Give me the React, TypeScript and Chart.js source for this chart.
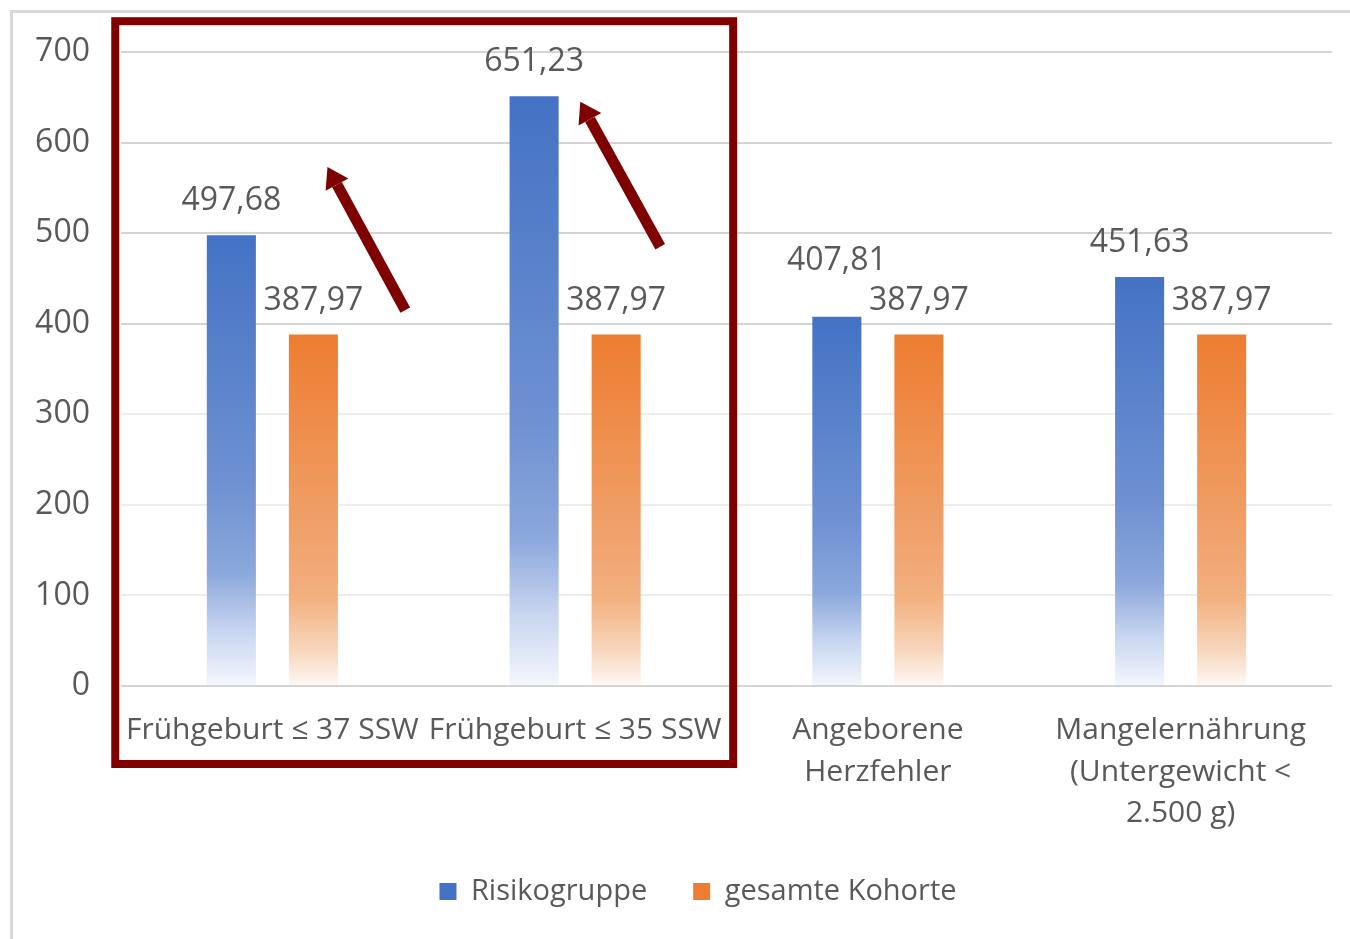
import React, { useEffect, useRef } from "react";
import { Chart, registerables } from "chart.js";

Chart.register(...registerables);

const categories: (string | string[])[] = [
  "Frühgeburt ≤ 37 SSW",
  "Frühgeburt ≤ 35 SSW",
  ["Angeborene", "Herzfehler"],
  ["Mangelernährung", "(Untergewicht <", "2.500 g)"],
];
const risikogruppe = [497.68, 651.23, 407.81, 451.63];
const gesamteKohorte = [387.97, 387.97, 387.97, 387.97];
const seriesNames = ["Risikogruppe", "gesamte Kohorte"];
const seriesColors = ["#4472C4", "#ED7D31"];
const yTicks = [0, 100, 200, 300, 400, 500, 600, 700];

// annotation anchors in data units: [category index, offset in category widths, value]
const arrows = [
  { from: [0, 0.439, 415], to: [0, 0.182, 573] },
  { from: [1, 0.281, 485], to: [1, 0.017, 645] },
];
const highlightBox = { fromCat: 0, fromOff: -0.519, toCat: 1, toOff: 0.522, topValue: 734 };

const FONT = "'Open Sans', 'Noto Sans', sans-serif";
const TEXT = "#595959";

const blueStops: [number, string][] = [
  [0, "rgba(68,114,196,1)"],
  [0.55, "rgba(110,145,210,1)"],
  [0.75, "rgba(140,168,220,1)"],
  [0.88, "rgba(200,214,240,1)"],
  [1, "rgba(244,247,253,1)"],
];
const orangeStops: [number, string][] = [
  [0, "rgba(237,125,49,1)"],
  [0.55, "rgba(240,160,105,1)"],
  [0.75, "rgba(243,176,128,1)"],
  [0.9, "rgba(248,215,190,1)"],
  [1, "rgba(254,248,244,1)"],
];

function gradientFill(solid: string, stops: [number, string][]) {
  return (c: any) => {
    const chart = c.chart;
    const area = chart.chartArea;
    if (!area || c.type !== "data") return solid;
    const ys = chart.scales.y;
    const top = ys.getPixelForValue(c.raw);
    const bottom = ys.getPixelForValue(0);
    const g = chart.ctx.createLinearGradient(0, top, 0, bottom);
    stops.forEach(([o, col]) => g.addColorStop(o, col));
    return g;
  };
}

const fmt = (v: number) => v.toFixed(2).replace(".", ",");

const overlayPlugin = {
  id: "overlay",
  afterLayout(chart: any) {
    const lg = chart.legend;
    if (lg) {
      lg.left += 32;
      lg.right += 32;
    }
  },
  afterDatasetsDraw(chart: any) {
    const ctx = chart.ctx;
    ctx.save();
    ctx.font = `32px ${FONT}`;
    ctx.fillStyle = TEXT;
    ctx.textAlign = "center";
    ctx.textBaseline = "middle";
    const m0 = chart.getDatasetMeta(0);
    const m1 = chart.getDatasetMeta(1);
    const gap = 34;
    m0.data.forEach((bar: any, i: number) => {
      const other = m1.data[i];
      const t0 = fmt(risikogruppe[i]);
      const t1 = fmt(gesamteKohorte[i]);
      let y0 = bar.y - gap;
      const y1 = other.y - gap;
      const w0 = ctx.measureText(t0).width;
      const w1 = ctx.measureText(t1).width;
      const hOverlap = Math.abs(bar.x - other.x) < (w0 + w1) / 2;
      if (hOverlap && Math.abs(y0 - y1) < 40) y0 = y1 - 40;
      ctx.fillText(t0, bar.x, y0);
      ctx.fillText(t1, other.x, y1);
    });
    ctx.restore();
  },
  afterDraw(chart: any) {
    const ctx = chart.ctx;
    const xs = chart.scales.x;
    const ys = chart.scales.y;
    const catW = (chart.chartArea.right - chart.chartArea.left) / categories.length;
    const px = (cat: number, off: number) => xs.getPixelForValue(cat) + off * catW;
    ctx.save();
    // highlight box
    const l = px(highlightBox.fromCat, highlightBox.fromOff);
    const r = px(highlightBox.toCat, highlightBox.toOff);
    const t = ys.getPixelForValue(highlightBox.topValue);
    const b = chart.chartArea.bottom + 78;
    ctx.strokeStyle = "#800000";
    ctx.lineWidth = 8;
    ctx.strokeRect(l, t, r - l, b - t);
    // arrows
    ctx.fillStyle = "#7f0000";
    ctx.strokeStyle = "#7f0000";
    arrows.forEach((a) => {
      const x1 = px(a.from[0], a.from[1]);
      const y1 = ys.getPixelForValue(a.from[2]);
      const x2 = px(a.to[0], a.to[1]);
      const y2 = ys.getPixelForValue(a.to[2]);
      const ang = Math.atan2(y2 - y1, x2 - x1);
      const headLen = 20;
      const headW = 13;
      const bx = x2 - headLen * Math.cos(ang);
      const by = y2 - headLen * Math.sin(ang);
      ctx.lineWidth = 11;
      ctx.lineCap = "butt";
      ctx.beginPath();
      ctx.moveTo(x1, y1);
      ctx.lineTo(bx, by);
      ctx.stroke();
      ctx.beginPath();
      ctx.moveTo(x2, y2);
      ctx.lineTo(bx + headW * Math.sin(ang), by - headW * Math.cos(ang));
      ctx.lineTo(bx - headW * Math.sin(ang), by + headW * Math.cos(ang));
      ctx.closePath();
      ctx.fill();
    });
    ctx.restore();
  },
};

export default function App() {
  const ref = useRef<HTMLCanvasElement | null>(null);
  useEffect(() => {
    if (!ref.current) return;
    const chart = new Chart(ref.current, {
      type: "bar",
      data: {
        labels: categories,
        datasets: [
          {
            label: seriesNames[0],
            data: risikogruppe,
            backgroundColor: gradientFill(seriesColors[0], blueStops),
            categoryPercentage: 0.542,
            barPercentage: 0.598,
          },
          {
            label: seriesNames[1],
            data: gesamteKohorte,
            backgroundColor: gradientFill(seriesColors[1], orangeStops),
            categoryPercentage: 0.542,
            barPercentage: 0.598,
          },
        ],
      },
      options: {
        animation: false,
        responsive: false,
        maintainAspectRatio: false,
        layout: { padding: { left: 0, right: 18, top: 52, bottom: 23 } },
        plugins: {
          tooltip: { enabled: false },
          legend: {
            position: "bottom",
            labels: {
              color: TEXT,
              font: { family: FONT, size: 29 },
              boxWidth: 17,
              boxHeight: 17,
              padding: 46,
              generateLabels: (chart: any) => {
                const items = Chart.defaults.plugins.legend.labels.generateLabels(chart);
                items.forEach((it: any, i: number) => {
                  it.fillStyle = seriesColors[i];
                  it.strokeStyle = seriesColors[i];
                  it.lineWidth = 0;
                });
                return items;
              },
            },
          },
        },
        scales: {
          x: {
            grid: { display: false },
            border: { display: false },
            ticks: {
              color: TEXT,
              font: { family: FONT, size: 30, lineHeight: 1.38 },
              padding: 16,
              autoSkip: false,
              maxRotation: 0,
              minRotation: 0,
            },
            afterFit: (s: any) => {
              s.height = 145;
            },
          },
          y: {
            min: 0,
            max: 700,
            afterBuildTicks: (s: any) => {
              s.ticks = yTicks.map((v) => ({ value: v }));
            },
            grid: {
              drawTicks: false,
              lineWidth: 2,
              color: (c: any) => {
                const v = c.tick ? c.tick.value : 0;
                return v === 0 || v >= 400 ? "#d4d4d4" : "#ececec";
              },
            },
            border: { display: false },
            ticks: {
              color: TEXT,
              font: { family: FONT, size: 32 },
              padding: 31,
            },
            afterFit: (s: any) => {
              s.width = 121;
            },
          },
        },
      },
      plugins: [overlayPlugin],
    });
    return () => chart.destroy();
  }, []);
  return (
    <div style={{ position: "absolute", left: 0, top: 0, width: 1350, height: 939, background: "#fff", overflow: "hidden" }}>
      <div
        style={{
          position: "absolute",
          left: 10,
          top: 10,
          width: 1360,
          height: 960,
          borderLeft: "3px solid #d9d9d9",
          borderTop: "3px solid #d9d9d9",
        }}
      />
      <canvas ref={ref} width={1350} height={939} style={{ position: "absolute", left: 0, top: 0, width: 1350, height: 939 }} />
    </div>
  );
}
